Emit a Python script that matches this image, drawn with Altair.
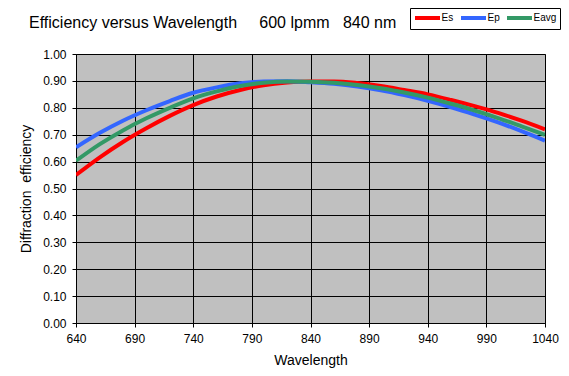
import altair as alt
import pandas as pd

# ---- data ----
wavelength = [640, 660, 680, 700, 720, 740, 760, 780, 800, 820, 840,
              860, 880, 900, 920, 940, 960, 980, 1000, 1020, 1040]
es = [0.550, 0.615, 0.673, 0.724, 0.770, 0.810, 0.842, 0.866, 0.884, 0.894, 0.898,
      0.898, 0.892, 0.881, 0.866, 0.850, 0.829, 0.806, 0.781, 0.752, 0.720]
ep = [0.653, 0.706, 0.752, 0.791, 0.825, 0.856, 0.876, 0.891, 0.898, 0.899, 0.895,
      0.889, 0.879, 0.865, 0.847, 0.826, 0.802, 0.775, 0.746, 0.713, 0.678]
eavg = [0.603, 0.664, 0.716, 0.761, 0.800, 0.835, 0.861, 0.881, 0.893, 0.898, 0.897,
        0.893, 0.885, 0.873, 0.857, 0.838, 0.815, 0.790, 0.762, 0.731, 0.699]
series_names = ["Es", "Ep", "Eavg"]
series_colors = ["#FF0000", "#3366FF", "#339966"]
x_ticks = [640, 690, 740, 790, 840, 890, 940, 990, 1040]
y_ticks = [0.0, 0.1, 0.2, 0.3, 0.4, 0.5, 0.6, 0.7, 0.8, 0.9, 1.0]
NB = "\u00a0"
title_text = "Efficiency versus Wavelength" + NB * 5 + "600 lpmm" + NB * 3 + "840 nm"
x_title = "Wavelength"
y_title = "Diffraction" + NB * 2 + "efficiency"

rows = []
for name, vals in zip(series_names, [es, ep, eavg]):
    for w, v in zip(wavelength, vals):
        rows.append({"Wavelength": w, "Efficiency": v, "Series": name})
df = pd.DataFrame(rows)

FONT = "Liberation Sans, Arial, sans-serif"

lines = alt.Chart(df).mark_line(strokeWidth=4, interpolate="monotone", clip=True).encode(
    x=alt.X("Wavelength:Q",
            scale=alt.Scale(domain=[640, 1040], nice=False, zero=False),
            axis=alt.Axis(values=x_ticks, format="d", title=x_title,
                          labelPadding=6, titleY=41, titleBaseline="alphabetic",
                          labelFlush=False, labelOverlap=False)),
    y=alt.Y("Efficiency:Q",
            scale=alt.Scale(domain=[0, 1], nice=False),
            axis=alt.Axis(values=y_ticks, format=".2f", title=y_title,
                          labelPadding=6, titleX=-46, titleBaseline="alphabetic",
                          labelOverlap=False)),
    color=alt.Color("Series:N",
                    scale=alt.Scale(domain=series_names, range=series_colors),
                    legend=alt.Legend(orient="none", legendX=334, legendY=-46,
                                      direction="horizontal", title=None,
                                      symbolType="M-2.5,0H2.5", symbolStrokeWidth=4,
                                      symbolSize=100, symbolOffset=7.5,
                                      labelFontSize=10, labelFont=FONT,
                                      labelColor="black", labelOffset=7, columnPadding=-1,
                                      gridAlign="none",
                                      padding=3, strokeColor="black", fillColor="white")),
)

title = alt.Chart(alt.Data(values=[{"t": title_text}])).mark_text(
    align="left", baseline="alphabetic", fontSize=16, font=FONT, color="black"
).encode(x=alt.value(-47), y=alt.value(-26.5), text="t:N")

chart = alt.layer(lines, title).properties(
    width=469, height=269,
    padding={"left": 68, "top": 46, "right": 16, "bottom": 45},
    autosize=alt.AutoSizeParams(type="none"),
    background="white",
).configure_view(
    fill="#C0C0C0", stroke="#808080", strokeWidth=1
).configure_axis(
    domainColor="black", tickColor="black", tickSize=4, grid=True,
    gridColor="black", gridWidth=1, gridOpacity=1,
    labelFont=FONT, labelFontSize=12, labelColor="black",
    titleFont=FONT, titleFontSize=14, titleFontWeight="normal", titleColor="black",
)

chart.save("out.html", embed_options={"renderer": "svg", "actions": False})
